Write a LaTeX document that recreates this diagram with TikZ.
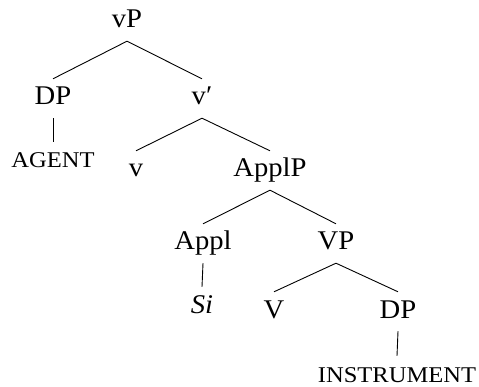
\documentclass[tikz,border=0pt]{standalone}
\usepackage{fontspec}
\setmainfont{Liberation Serif}[FakeStretch=1.06]
\newfontfamily\capsfont{Liberation Serif}[FakeStretch=1.09]
\tikzstyle{cat}=[anchor=base,inner xsep=0pt,inner ysep=8pt,
  text height=18pt,text depth=5pt,font=\fontsize{27}{30}\selectfont]
\tikzstyle{leaf}=[cat,inner ysep=0pt,text height=26pt,text depth=0pt,
  font=\capsfont\fontsize{22.5}{25}\selectfont]
\tikzstyle{branch}=[line width=0.9pt]

\begin{document}
\begin{tikzpicture}[x=1pt, y=-1pt]
            \useasboundingbox (0, 0) rectangle (479, 387);
            \node [style=cat] (0) at (127, 28) {vP};
            \node [style=cat] (1) at (53, 105) {DP};
            \node [style=cat] (2) at (202, 105) {v′};
            \node [style=leaf] (3) at (53, 168) {AGENT};
            \node [style=cat] (4) at (136, 177) {v};
            \node [style=cat] (5) at (270, 177) {ApplP};
            \node [style=cat] (6) at (203, 250) {Appl};
            \node [style=cat] (7) at (336, 250) {VP};
            \node [style=cat] (8) at (202, 313) {\textit{Si}};
            \node [style=cat] (9) at (274, 318) {V};
            \node [style=cat] (10) at (398, 318) {DP};
            \node [style=leaf] (11) at (397, 382) {INSTRUMENT};
            \draw [style=branch] (0.south) to (1.north);
            \draw [style=branch] (0.south) to (2.north);
            \draw [style=branch] (1.south) to (3.north);
            \draw [style=branch] (2.south) to (4.north);
            \draw [style=branch] (2.south) to (5.north);
            \draw [style=branch] (5.south) to (6.north);
            \draw [style=branch] (5.south) to (7.north);
            \draw [style=branch] (6.south) to (8.north);
            \draw [style=branch] (7.south) to (9.north);
            \draw [style=branch] (7.south) to (10.north);
            \draw [style=branch] (10.south) to (11.north);
    \end{tikzpicture}
\end{document}
